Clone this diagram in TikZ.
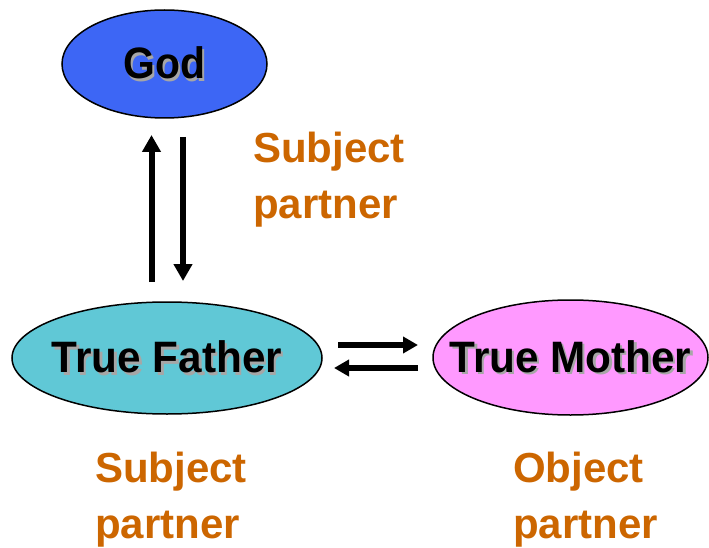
\documentclass[tikz,border=0pt]{standalone}
\usepackage{fontspec}
\setmainfont{Liberation Sans}
\usepackage{graphicx}
\usetikzlibrary{shapes.geometric,arrows.meta}
\definecolor{godblue}{HTML}{3D66F5}
\definecolor{fathercyan}{HTML}{60C8D6}
\definecolor{motherpink}{HTML}{FF99FF}
\definecolor{lblorange}{HTML}{CC6600}
\newcommand{\shtext}[2][0.96]{\makebox[0pt]{\raisebox{-0.33em}[0pt][0pt]{\scalebox{#1}[1]{\makebox[0pt][l]{\raisebox{-2.5pt}{\hspace{2.5pt}\textcolor{black!35}{#2}}}#2}}}}
\tikzset{
  person/.style={ellipse, draw=black, line width=1.5pt, inner sep=0pt, font=\bfseries\fontsize{44}{50}\selectfont},
  partnerlbl/.style={align=left, anchor=north west, inner sep=0pt, text=lblorange, font=\bfseries\fontsize{42}{56}\selectfont},
  bigarrow/.style={line width=6pt, -{Triangle[length=17pt,width=18pt]}},
  sidearrow/.style={line width=6pt, -{Triangle[length=15pt,width=16pt]}}
}
\begin{document}
\begin{tikzpicture}[x=1pt,y=-1pt]
\useasboundingbox[fill=white] (0,0) rectangle (709,548);
\begin{scope}
\clip (0,0) rectangle (709,548);
\node[person, fill=godblue, minimum width=205pt, minimum height=108pt] (god) at (164.5,64) {\shtext[0.93]{God}};
\node[person, fill=fathercyan, minimum width=310pt, minimum height=112pt] (father) at (167,358) {\shtext{True Father}};
\node[person, fill=motherpink, minimum width=275pt, minimum height=115pt] (mother) at (570.5,357.5) {\shtext{True Mother}};
\end{scope}
\coordinate (upS) at (151.5,282);
\coordinate (upE) at (151.5,135);
\coordinate (dnS) at (183,137);
\coordinate (dnE) at (183,281);
\coordinate (rtS) at (338,345);
\coordinate (rtE) at (418,345);
\coordinate (ltS) at (418,368);
\coordinate (ltE) at (334,368);
\draw[bigarrow] (upS) -- (upE);
\draw[bigarrow] (dnS) -- (dnE);
\draw[sidearrow] (rtS) -- (rtE);
\draw[sidearrow] (ltS) -- (ltE);
\node[partnerlbl] (lblgod) at (253,132) {Subject\\partner};
\node[partnerlbl] (lblfather) at (95,452) {Subject\\partner};
\node[partnerlbl] (lblmother) at (513,452) {Object\\partner};
\end{tikzpicture}
\end{document}
